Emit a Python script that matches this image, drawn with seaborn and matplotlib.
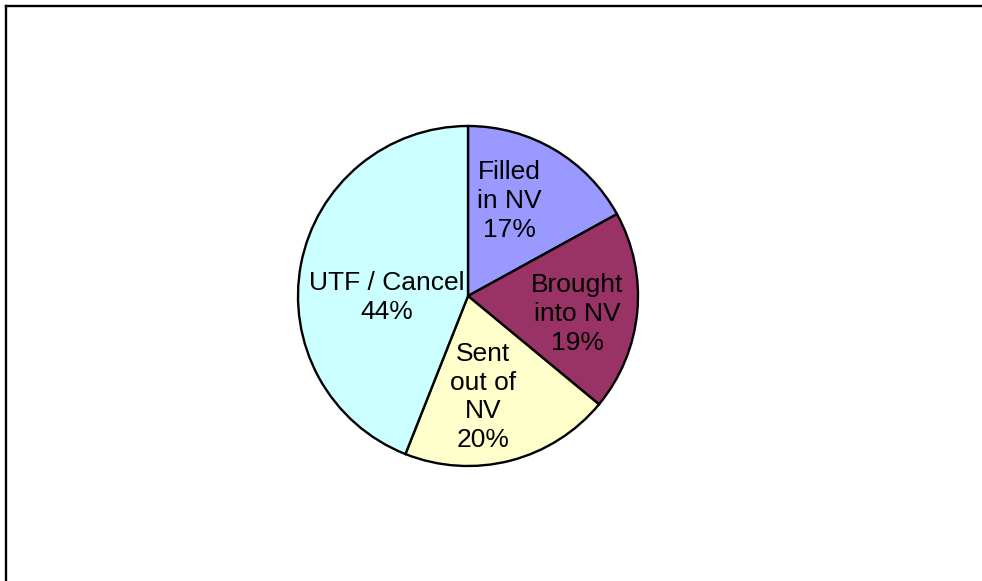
import numpy as np
import matplotlib
matplotlib.use("Agg")
import matplotlib.pyplot as plt
import seaborn as sns
from matplotlib.lines import Line2D

# slice data (clockwise from 12 o'clock)
categories = ["Filled\nin NV", "Brought\ninto NV", "Sent\nout of\nNV", "UTF / Cancel"]
shares = [17, 19, 20, 44]
colors = ["#9999FF", "#993366", "#FFFFCC", "#CCFFFF"]

# label placement: radius fraction and angle nudge (degrees) per slice
label_r = [0.61, 0.65, 0.60, 0.48]
label_nudge = [7, -4, -6, 12]

sns.set_theme(style="white")
plt.rcParams["font.family"] = ["Liberation Sans", "DejaVu Sans"]

W, H = 982, 581
fig = plt.figure(figsize=(W / 100, H / 100), dpi=100)
fig.patch.set_facecolor("white")

# pie centre (468, 296) px, radius 170 px
cx, cy, r = 468, 296, 170
ax = fig.add_axes([(cx - r) / W, (H - cy - r) / H, 2 * r / W, 2 * r / H])

labels = [f"{c}\n{v}%" for c, v in zip(categories, shares)]
wedges, texts = ax.pie(
    shares, colors=colors, startangle=90, counterclock=False,
    labels=labels, labeldistance=0.6,
    wedgeprops=dict(edgecolor="black", linewidth=1.7),
    textprops=dict(fontsize=19, color="black", ha="center", va="center",
                   linespacing=1.25),
)
for w, t, d, n in zip(wedges, texts, label_r, label_nudge):
    a = np.deg2rad((w.theta1 + w.theta2) / 2 + n)
    t.set_position((d * np.cos(a), d * np.sin(a)))
    t.set_ha("center")
    t.set_va("center")
    t.set_multialignment("center")

ax.set_xlim(-1, 1)
ax.set_ylim(-1, 1)
ax.set_aspect("equal")
ax.axis("off")

# chart area border (only top and left edges are visible in the crop)
fig.add_artist(Line2D([6 / W, 6 / W], [0, 1 - 6 / H], color="black", lw=1.7,
                      transform=fig.transFigure, solid_capstyle="projecting"))
fig.add_artist(Line2D([6 / W, 1], [1 - 6 / H, 1 - 6 / H], color="black", lw=1.7,
                      transform=fig.transFigure, solid_capstyle="projecting"))

fig.savefig("out.png", dpi=100)
